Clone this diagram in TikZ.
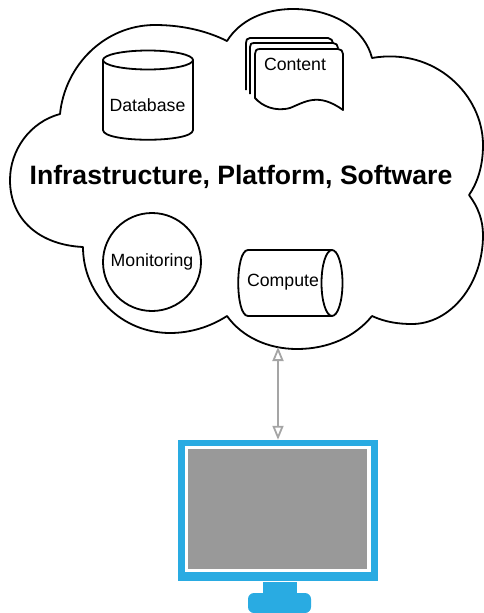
\documentclass[tikz,border=0pt]{standalone}
\usepackage{fontspec}
\setmainfont{Liberation Sans}
\usetikzlibrary{arrows.meta}
\definecolor{screenblue}{RGB}{41,171,226}
\definecolor{screengray}{RGB}{153,153,153}
\definecolor{linkgray}{RGB}{165,165,165}
\tikzset{
  outline/.style={draw=black,line width=1.8pt,line join=round},
  label/.style={font=\fontsize{17.7}{20}\selectfont,text=black,inner sep=0pt},
}
\begin{document}
\begin{tikzpicture}[x=1pt,y=-1pt]
        \useasboundingbox (0,0) rectangle (484,613);
        % cloud
        \draw[outline] (60,114) .. controls (65,65) and (105,25) .. (155,25)
              .. controls (180,25) and (205,30) .. (227,41)
              .. controls (240,20) and (265,9) .. (293,9)
              .. controls (335,9) and (365,30) .. (372,58)
              .. controls (435,47) and (483,95) .. (483,145)
              .. controls (483,165) and (478,182) .. (469,195)
              .. controls (478,207) and (483,220) .. (483,235)
              .. controls (483,285) and (450,324) .. (412,324)
              .. controls (398,324) and (385,322) .. (372,316)
              .. controls (355,337) and (328,349) .. (297,349)
              .. controls (268,349) and (242,337) .. (227,316)
              .. controls (210,327) and (190,333) .. (170,333)
              .. controls (122,333) and (83,295) .. (83,247)
              .. controls (40,245) and (10,220) .. (10,180)
              .. controls (10,150) and (30,122) .. (60,114) -- cycle;
        \coordinate (cloudbottom) at (278,347);
        % database
        \draw[outline] (103,60) -- (103,130) .. controls (103,143) and (193,143) .. (193,130) -- (193,60);
        \draw[outline] (148,60) ellipse (45 and 9.5);
        % content
        \draw[outline] (246,90) -- (246,43) .. controls (246,40) and (247,38) .. (250,38) -- (328,38) .. controls (331,38) and (333,41) .. (333,43);
        \draw[outline,fill=white] (250,94) -- (250,47) .. controls (250,44) and (251,43) .. (255,43) -- (333,43) .. controls (336,43) and (338,45) .. (338,48);
        \draw[outline,fill=white] (255,98) -- (255,54) .. controls (255,51) and (256,49) .. (260,49) -- (338,49) .. controls (341,49) and (343,51) .. (343,54) -- (343,110) .. controls (318,92) and (305,102) .. (290,108) .. controls (275,112) and (262,106) .. (255,98) -- cycle;
        % compute
        \draw[outline] (332,250) -- (248,250) .. controls (235,250) and (235,316) .. (248,316) -- (332,316);
        \draw[outline] (332,283) ellipse (10.5 and 33);
        % monitoring
        \node[circle,outline,minimum size=98pt,inner sep=0pt] (monitoring) at (152,262) {};
        % monitor
        \node[draw=none,fill=screenblue,minimum width=200pt,minimum height=141pt,inner sep=0pt] (monitor) at (278,510.5) {};
        \node[fill=white,minimum width=186pt,minimum height=126pt,inner sep=0pt] (frame) at (278,509) {};
        \node[fill=screengray,minimum width=179pt,minimum height=120pt,inner sep=0pt] (screen) at (277.5,509) {};
        \fill[screenblue] (263,582) rectangle (297,595);
        \fill[screenblue,rounded corners=6pt] (248,593) rectangle (311,613);
        % labels
        \begin{scope}[every node/.style={label}]
        \node (database) at (147.5,105) {Database};
        \node (content) at (295,64) {Content};
        \node (monitoringtext) at (152,261.5) {Monitoring};
        \node (compute) at (283,282.5) {Compute};
        \node[font=\fontsize{26.6}{30}\selectfont\bfseries] (title) at (241,176.5) {Infrastructure, Platform, Software};
        \end{scope}
        % link
        \draw[draw=linkgray,line width=1.8pt,{Triangle[open,length=14pt,width=11pt]}-{Triangle[open,length=14pt,width=11pt]}] (cloudbottom) -- (monitor.north);
\end{tikzpicture}
\end{document}
